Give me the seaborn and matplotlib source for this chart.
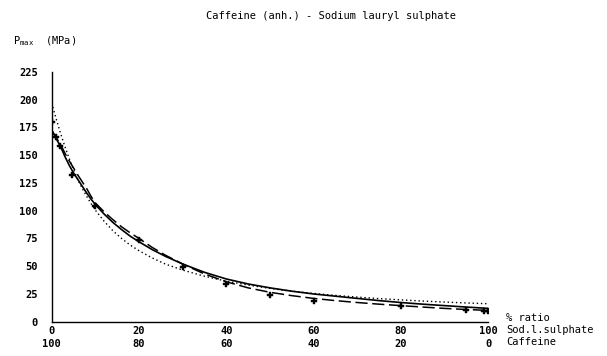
import matplotlib
matplotlib.use("Agg")
import matplotlib.pyplot as plt
import seaborn as sns
import pandas as pd

# measured data points (% sodium lauryl sulphate, Pmax MPa)
pts_x = [0, 1, 2, 4.6, 10, 20, 30, 40, 50, 60, 80, 95, 99, 100]
pts_y = [180, 166, 158, 132, 104, 74, 49, 34, 24, 18.5, 14, 10.3, 9.5, 9.5]

# curves
curve_x = [0, 1, 2, 3, 4, 5, 6, 7, 8, 9, 10, 12, 14, 16, 18, 20, 23, 26, 30,
           35, 40, 45, 50, 55, 60, 65, 70, 75, 80, 85, 90, 95, 100]
solid_y = [173, 165, 158, 149, 141, 134, 128, 122, 116, 110.5, 105.5, 97, 89.5,
           83, 77, 72, 65, 59, 52, 44.5, 38.5, 34, 30.5, 27.5, 25, 23, 21, 19,
           17.3, 15.8, 14.5, 13.2, 12]
dashed_y = [172, 166, 160, 152, 145, 138.5, 132, 126, 120, 113, 107, 99, 92,
            85.5, 80, 75, 67, 60, 52, 43, 36, 30.5, 26.5, 23.5, 21, 19, 17.3,
            15.8, 14.5, 13.2, 12, 11, 10.2]
dotted_y = [197, 183, 170, 158, 147, 137, 128, 120, 113, 106.5, 100.5, 90.5, 82,
            75, 69, 64, 57.5, 52, 46.5, 41, 36.5, 33, 30, 27.5, 25.5, 23.7, 22.2,
            20.8, 19.7, 18.6, 17.7, 16.9, 16.2]

xticks = [0, 20, 40, 60, 80, 100]
xlabels_top = ["0", "20", "40", "60", "80", "100"]
xlabels_bot = ["100", "80", "60", "40", "20", "0"]
yticks = [0, 25, 50, 75, 100, 125, 150, 175, 200, 225]

sns.set_style("white")
plt.rcParams['font.family'] = ['DejaVu Sans Mono']
plt.rcParams['text.color'] = 'black'

fig = plt.figure(figsize=(6.07, 3.56), dpi=100)
ax = fig.add_axes([0.0852, 0.0963, 0.719, 0.7017])

df_s = pd.DataFrame({"x": curve_x, "y": solid_y})
df_d = pd.DataFrame({"x": curve_x, "y": dashed_y})
df_o = pd.DataFrame({"x": curve_x, "y": dotted_y})
sns.lineplot(data=df_o, x="x", y="y", ax=ax, color="black", lw=1.0,
             linestyle=(0, (1, 2)))
sns.lineplot(data=df_d, x="x", y="y", ax=ax, color="black", lw=1.1,
             linestyle=(0, (8, 3)))
sns.lineplot(data=df_s, x="x", y="y", ax=ax, color="black", lw=1.2)
sns.scatterplot(x=pts_x, y=pts_y, ax=ax, marker="P", s=22, color="black",
                edgecolor="black", linewidth=0.3, zorder=5)

ax.set_xlim(0, 100)
ax.set_ylim(0, 225)
ax.set_xticks(xticks)
ax.set_xticklabels([f"{a}\n{b}" for a, b in zip(xlabels_top, xlabels_bot)],
                   fontsize=7.5, linespacing=1.4, fontweight="bold")
ax.set_yticks(yticks)
ax.set_yticklabels([str(v) for v in yticks], fontsize=7.5, fontweight="bold")
ax.tick_params(axis="both", direction="in", length=3, width=0.8, colors="black",
               labelcolor="black")
ax.tick_params(axis="y", pad=10)
ax.tick_params(axis="x", pad=3)
ax.set_xlabel("")
ax.set_ylabel("")
for s in ["top", "right"]:
    ax.spines[s].set_visible(False)
for s in ["left", "bottom"]:
    ax.spines[s].set_color("black")
    ax.spines[s].set_linewidth(1.0)

fig.text(0.545, 0.955, "Caffeine (anh.) - Sodium lauryl sulphate",
         ha="center", va="center", fontsize=7.5)
fig.text(0.022, 0.885, r"P$_{\mathregular{max}}$  (MPa)", ha="left", va="center",
         fontsize=7.5)
fig.text(0.834, 0.106, "% ratio", ha="left", va="center", fontsize=7.5)
fig.text(0.834, 0.072, "Sod.l.sulphate", ha="left", va="center", fontsize=7.5)
fig.text(0.834, 0.039, "Caffeine", ha="left", va="center", fontsize=7.5)

fig.savefig("out.png", dpi=100)
